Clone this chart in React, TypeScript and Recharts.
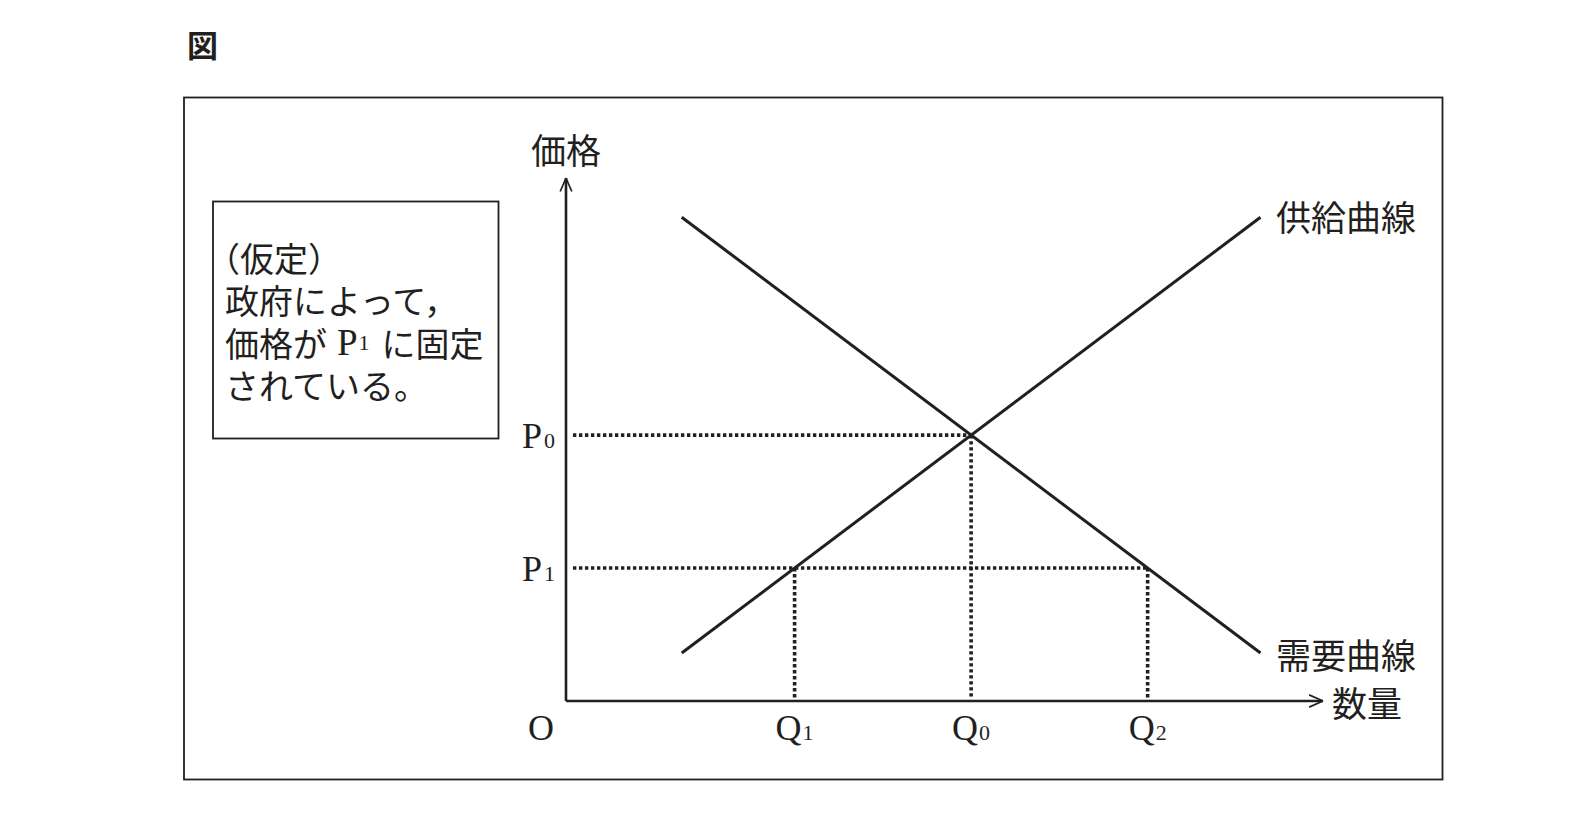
import { LineChart, Line, XAxis, YAxis, ReferenceLine } from 'recharts'

// quantity axis ticks: O, Q1, Q0, Q2
const quantityTicks = [0, 3.95, 7, 10.05]
const quantityMain = ['O', 'Q', 'Q', 'Q']
const quantitySub = ['', '1', '0', '2']

// price axis ticks: P1, P0
const priceTicks = [3.05, 6.1]
const priceMain = ['P', 'P']
const priceSub = ['1', '0']

// supply and demand curves (straight lines)
const supplyQ = [2, 12]
const supplyP = [1.1, 11.1]
const demandQ = [2, 12]
const demandP = [11.1, 1.1]

const Q_MAX = 13.08
const P_MAX = 12

const INK = '#231f20'
const SERIF = '"Liberation Serif", "Times New Roman", serif'
const CJK = '"Noto Sans CJK JP", "Noto Sans", sans-serif'

const supplyData = supplyQ.map((q, i) => ({ q, p: supplyP[i] }))
const demandData = demandQ.map((q, i) => ({ q, p: demandP[i] }))

const [P1, P0] = priceTicks
const [, Q1, Q0, Q2] = quantityTicks

function QuantityTick({ x, y, payload }: any) {
  const i = quantityTicks.indexOf(payload.value)
  const dx = i === 0 ? -25 : 0
  return (
    <text x={x + dx} y={y + 39} textAnchor="middle" fontFamily={SERIF} fontSize={36} fill={INK}>
      {quantityMain[i]}
      {quantitySub[i] && <tspan fontSize={22} dx={1}>{quantitySub[i]}</tspan>}
    </text>
  )
}

function PriceTick({ x, y, payload }: any) {
  const i = priceTicks.indexOf(payload.value)
  return (
    <text x={x - 11} y={y + 13} textAnchor="end" fontFamily={SERIF} fontSize={36} fill={INK}>
      {priceMain[i]}
      <tspan fontSize={22} dx={2}>{priceSub[i]}</tspan>
    </text>
  )
}

const dotted = { stroke: INK, strokeWidth: 3.6, strokeDasharray: '3.4 2.6', ifOverflow: 'visible' as const }
const arrow = { stroke: INK, strokeWidth: 1.7, ifOverflow: 'visible' as const }
const axisLine = { stroke: INK, strokeWidth: 2.6, ifOverflow: 'visible' as const }

export default function App() {
  return (
    <div style={{ position: 'absolute', left: 0, top: 0, width: 1573, height: 822, background: '#fff' }}>
      <LineChart width={1573} height={822} margin={{ top: 178, right: 250, bottom: 61, left: 506 }}>
        <XAxis
          type="number"
          dataKey="q"
          domain={[0, Q_MAX]}
          allowDataOverflow
          ticks={quantityTicks}
          interval={0}
          height={60}
          tickSize={0}
          tickMargin={0}
          tickLine={false}
          axisLine={false}
          tick={<QuantityTick />}
        />
        <YAxis
          type="number"
          dataKey="p"
          domain={[0, P_MAX]}
          allowDataOverflow
          ticks={priceTicks}
          interval={0}
          width={60}
          tickSize={0}
          tickMargin={0}
          tickLine={false}
          axisLine={false}
          tick={<PriceTick />}
        />
        {/* axes with arrow heads */}
        <ReferenceLine segment={[{ x: 0, y: 0 }, { x: Q_MAX, y: 0 }]} {...axisLine} />
        <ReferenceLine segment={[{ x: 0, y: 0 }, { x: 0, y: P_MAX }]} {...axisLine} />
        <ReferenceLine segment={[{ x: Q_MAX, y: 0 }, { x: Q_MAX - 0.24, y: 0.14 }]} {...arrow} />
        <ReferenceLine segment={[{ x: Q_MAX, y: 0 }, { x: Q_MAX - 0.24, y: -0.14 }]} {...arrow} />
        <ReferenceLine segment={[{ x: 0, y: P_MAX }, { x: 0.1, y: P_MAX - 0.31 }]} {...arrow} />
        <ReferenceLine segment={[{ x: 0, y: P_MAX }, { x: -0.1, y: P_MAX - 0.31 }]} {...arrow} />
        {/* dotted guides */}
        <ReferenceLine segment={[{ x: 0.12, y: P0 }, { x: Q0, y: P0 }]} {...dotted} />
        <ReferenceLine segment={[{ x: 0.12, y: P1 }, { x: Q2, y: P1 }]} {...dotted} />
        <ReferenceLine segment={[{ x: Q0, y: P0 }, { x: Q0, y: 0.08 }]} {...dotted} />
        <ReferenceLine segment={[{ x: Q1, y: P1 }, { x: Q1, y: 0.08 }]} {...dotted} />
        <ReferenceLine segment={[{ x: Q2, y: P1 }, { x: Q2, y: 0.08 }]} {...dotted} />
        <Line data={supplyData} dataKey="p" type="linear" stroke={INK} strokeWidth={3} dot={false} isAnimationActive={false} />
        <Line data={demandData} dataKey="p" type="linear" stroke={INK} strokeWidth={3} dot={false} isAnimationActive={false} />
      </LineChart>

      <svg width={1573} height={822} style={{ position: 'absolute', left: 0, top: 0, pointerEvents: 'none' }}>
        <text x={187} y={43} dominantBaseline="central" fontFamily={CJK} fontSize={31} fontWeight={700} fill={INK}>図</text>
        <rect x={184} y={97.5} width={1258.5} height={682} fill="none" stroke={INK} strokeWidth={1.8} />
        <rect x={213} y={201.5} width={285.5} height={237} fill="none" stroke={INK} strokeWidth={1.8} />
        <g fontFamily={CJK} fontSize={34} fill={INK} dominantBaseline="central">
          <text x={206} y={257}>（仮定）</text>
          <text x={225} y={299}>政府によって，</text>
          <text x={225} y={342}>
            価格が
            <tspan fontFamily={SERIF} fontSize={37} dx={10}>P</tspan>
            <tspan fontFamily={SERIF} fontSize={22} dx={1}>1</tspan>
            <tspan dx={12}>に固定</tspan>
          </text>
          <text x={225} y={384}>されている。</text>
        </g>
        <g fontFamily={CJK} fontSize={35} fill={INK} dominantBaseline="central">
          <text x={566} y={148} textAnchor="middle">価格</text>
          <text x={1332} y={701}>数量</text>
          <text x={1276} y={215}>供給曲線</text>
          <text x={1276} y={653}>需要曲線</text>
        </g>
      </svg>
    </div>
  )
}
